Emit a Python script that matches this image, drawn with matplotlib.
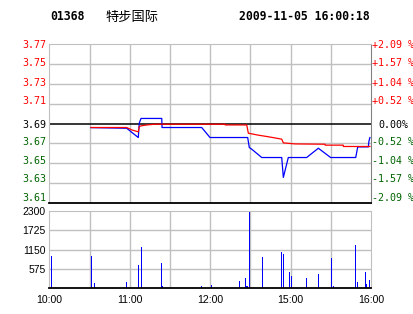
import matplotlib
matplotlib.use("Agg")
import matplotlib.pyplot as plt

# ---- data (minutes since 10:00 on a compressed 240-min trading axis) ----
code = "01368"
name = "特步国际"
stamp = "2009-11-05 16:00:18"
prev_close = 3.69

price_t = [31.1, 57.7, 66.4, 67.1, 68.4, 83.9, 84.1, 113.7, 119.9, 148.0, 149.2,
           151.0, 158.5, 173.4, 174.6, 178.3, 192.0, 200.7, 209.9, 228.6, 230.1,
           238.0, 238.5, 239.2]
price_v = [3.686, 3.6854, 3.6764, 3.6903, 3.6949, 3.6949, 3.6861, 3.6861, 3.6764,
           3.6764, 3.6667, 3.6651, 3.657, 3.657, 3.6377, 3.657, 3.657, 3.666,
           3.657, 3.657, 3.6673, 3.6673, 3.6731, 3.6764]

avg_t = [31.1, 57.7, 61.5, 66.4, 67.1, 68.4, 72.7, 78.9, 131.1, 131.2, 147.3,
         148.5, 155.9, 162.2, 168.4, 173.4, 174.6, 183.3, 205.7, 205.8, 219.3,
         219.4, 239.2]
avg_v = [3.6861, 3.6861, 3.6838, 3.6819, 3.6871, 3.6877, 3.6886, 3.6893, 3.6893,
         3.6886, 3.6886, 3.6806, 3.6787, 3.6774, 3.676, 3.6748, 3.6712, 3.6702,
         3.6699, 3.669, 3.669, 3.6677, 3.6677]

vol_t = [1.0, 31.3, 33.6, 57.0, 66.4, 68.6, 83.6, 84.3, 113.4, 120.9, 141.7, 146.2,
         147.0, 147.7, 149.2, 158.9, 173.1, 174.6, 179.0, 180.5, 191.7, 200.7,
         210.4, 211.9, 228.3, 229.8, 235.7, 236.5, 238.7]
vol_v = [961, 961, 158, 187, 693, 1229, 753, 70, 70, 100, 217, 306,
         70, 70, 2280, 931, 1080, 1020, 485, 366, 306, 425,
         901, 70, 1288, 187, 485, 130, 247]

left_labels = ["3.77", "3.75", "3.73", "3.71", "3.69", "3.67", "3.65", "3.63", "3.61"]
right_labels = ["+2.09 %", "+1.57 %", "+1.04 %", "+0.52 %", "0.00%",
                "-0.52 %", "-1.04 %", "-1.57 %", "-2.09 %"]
vol_ticks = [575, 1150, 1725, 2300]
time_ticks = [0, 60, 120, 180, 240]
time_labels = ["10:00", "11:00", "12:00", "15:00", "16:00"]

RED = "#ff0000"
GREEN = "#006400"
GRID = "#c0c0c0"
MONO = "DejaVu Sans Mono"
SANS = "Liberation Sans"

step = prev_close * 0.0209 / 4
levels = [prev_close + (i - 4) * step for i in range(9)]
# label rows sit on a slightly tighter pitch than the grid (pixel rows)
label_rows = [45, 63.5, 82.5, 101.5, 124.5, 142, 160.5, 179.5, 198]

fig = plt.figure(figsize=(4.14, 3.14), dpi=100)
W, H = 414, 314


def rect(x0, y0, x1, y1):
    return [x0 / W, 1 - y1 / H, (x1 - x0) / W, (y1 - y0) / H]


# ---- price panel ----
ax = fig.add_axes(rect(49.3, 44, 371, 203))
ax.set_xlim(0, 240)
ax.set_ylim(levels[0], levels[-1])
for lv in levels[1:-1]:
    if abs(lv - prev_close) < 1e-9:
        continue
    ax.axhline(lv, color=GRID, lw=1.0, zorder=0)
for t in range(30, 240, 30):
    ax.axvline(t, color=GRID, lw=1.0, zorder=0)
ax.axhline(prev_close, color="black", lw=1.1, zorder=1)
ax.plot(price_t, price_v, color="#0000ff", lw=0.9, zorder=2)
ax.plot(avg_t, avg_v, color=RED, lw=0.9, zorder=3)
ax.set_xticks([])
ax.set_yticks([])
for s in ("top", "left"):
    ax.spines[s].set_color(GRID)
ax.spines["right"].set_color("#808080")
ax.spines["bottom"].set_color("black")
ax.spines["bottom"].set_linewidth(1.3)

for i, row in enumerate(label_rows):
    c = RED if i < 4 else ("black" if i == 4 else GREEN)
    y = 1 - row / H
    fig.text(46.7 / W, y, left_labels[i], ha="right", va="center",
             fontsize=7.2, family=MONO, color=c)
    x = 378.3 if i == 4 else 371.7
    fig.text(x / W, y, right_labels[i], ha="left", va="center",
             fontsize=7.2, family=MONO, color=c)

# ---- volume panel ----
av = fig.add_axes(rect(49.3, 210.5, 371, 288.3))
av.set_xlim(0, 240)
av.set_ylim(0, 2310)
for v in vol_ticks[:-1]:
    av.axhline(v, color=GRID, lw=1.0, zorder=0)
for t in range(30, 240, 30):
    av.axvline(t, color=GRID, lw=1.0, zorder=0)
av.vlines(vol_t, 0, vol_v, colors="#0000ff", lw=0.5, antialiased=False, zorder=2)
av.set_yticks(vol_ticks)
av.set_yticklabels([str(v) for v in vol_ticks], fontsize=7.5, family=SANS)
av.tick_params(axis="y", length=0, pad=2.5)
av.set_xticks(time_ticks)
av.set_xticklabels(time_labels, fontsize=7.6, family=SANS)
av.tick_params(axis="x", length=0, pad=5)
for s in ("top", "left", "right"):
    av.spines[s].set_color(GRID)
av.spines["bottom"].set_color("black")
av.spines["bottom"].set_linewidth(1.3)

# ---- header ----
fig.text(50 / W, 1 - 17 / H, code, fontsize=8.3, family=MONO,
         weight="bold", va="center", ha="left")
fig.text(105 / W, 1 - 17 / H, name, fontsize=9.5, family="Noto Sans CJK SC",
         va="center", ha="left")
fig.text(370 / W, 1 - 17 / H, stamp, fontsize=8.3, family=MONO,
         weight="bold", va="center", ha="right")

fig.savefig("out.png", dpi=100)
